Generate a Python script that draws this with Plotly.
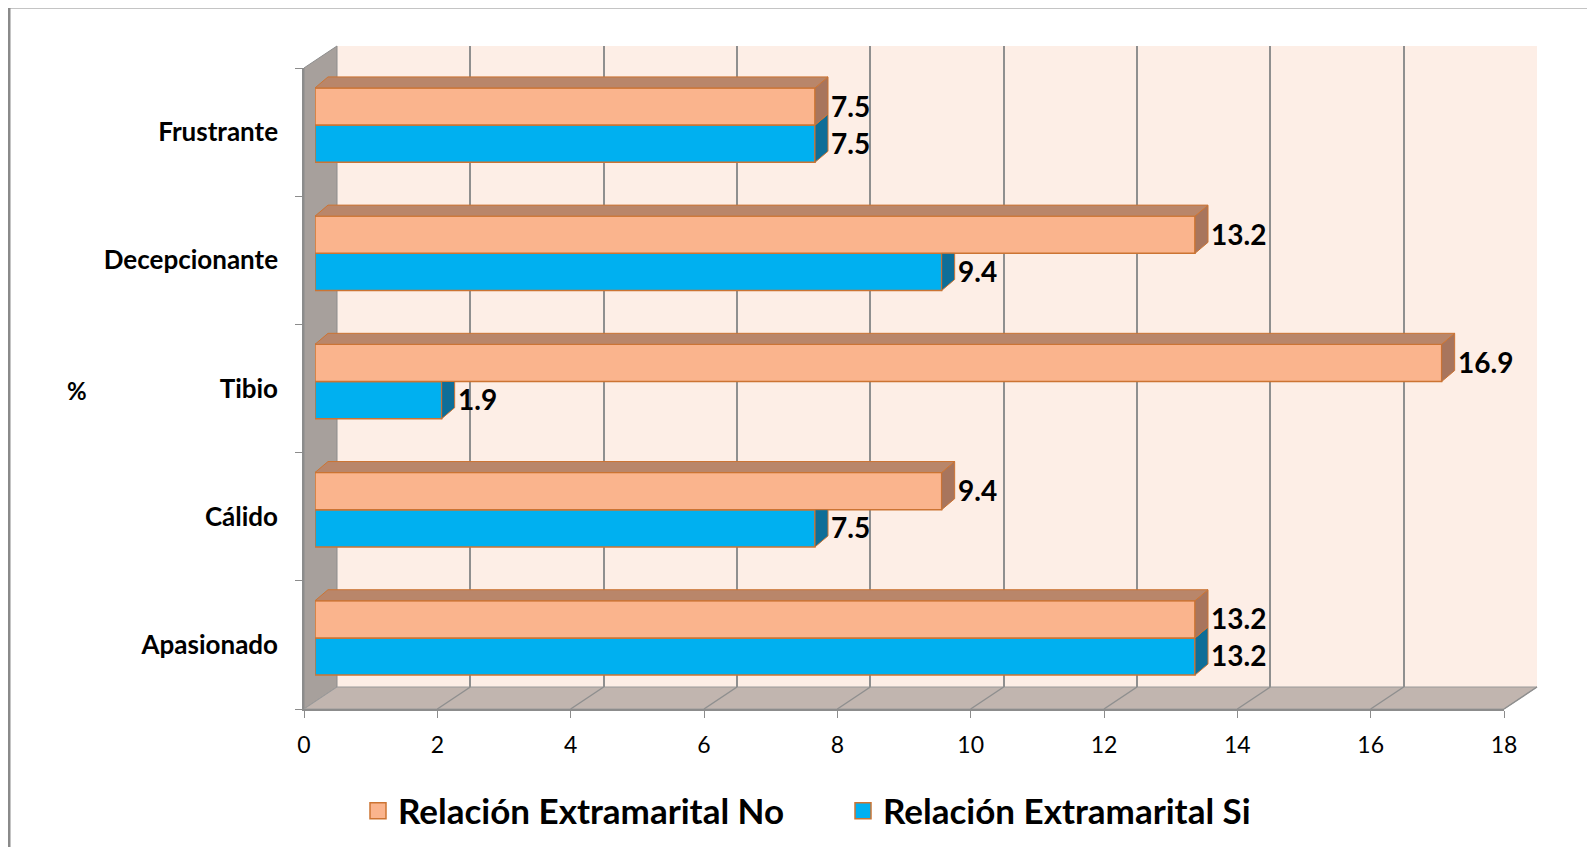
import plotly.graph_objects as go

# data
categories = ["Apasionado", "Cálido", "Tibio", "Decepcionante", "Frustrante"]
rel_no = [13.2, 9.4, 16.9, 13.2, 7.5]
rel_si = [13.2, 7.5, 1.9, 9.4, 7.5]
x_ticks = [0, 2, 4, 6, 8, 10, 12, 14, 16, 18]

FONT = "Lato"
# page body has an 8px margin, so the figure is a bit smaller than the window
OFF = 8
W, H = 1595 - 2 * OFF, 855 - 2 * OFF

ORANGE = "#FAB48D"
ORANGE_TOP = "#B9866A"
ORANGE_SIDE = "#A8755D"
BLUE = "#00B0F0"
BLUE_SIDE = "#0E6E98"
EDGE = "#CC7433"
WALL = "#FDEEE6"
SIDE_WALL = "#A7A09C"
FLOOR = "#C1B5AF"
GRID = "#8F8F8F"


def fx(px):
    return (px - OFF) / W


def fy(py):
    return 1 - (py - OFF) / H


# front plane of the 3d box (window pixels)
X0, X1 = 304, 1504
Y0, Y1 = 709, 68
BACK = (33, 22)      # back wall offset
SHIFT = (11, 7)      # where the bars sit inside the box
BAR_D = (13, 11)     # bar depth

xmax = x_ticks[-1]
ncat = len(categories)
px_per_x = (X1 - X0) / xmax
px_per_y = (Y0 - Y1) / ncat
dx = BAR_D[0] / px_per_x
dy = BAR_D[1] / px_per_y

bargap = 0.42
bw = (1 - bargap) / 2
pos = list(range(ncat))

fig = go.Figure()

# back wall subplot (x/y) -> only gridlines
fig.add_trace(go.Scatter(x=[0], y=[0], mode="markers", marker=dict(opacity=0),
                         showlegend=False, hoverinfo="skip", xaxis="x", yaxis="y"))

# bars (x2/y2)
series = [("Relación Extramarital Si", rel_si, BLUE, 2),
          ("Relación Extramarital No", rel_no, ORANGE, 1)]
for name, vals, col, rank in series:
    fig.add_trace(go.Bar(y=pos, x=vals, orientation="h", name=name, showlegend=False,
                         marker=dict(color=col, line=dict(color=EDGE, width=1.5)),
                         xaxis="x2", yaxis="y2", hoverinfo="skip"))
    # legend entry with a bigger square than the bar legend gives
    fig.add_trace(go.Scatter(x=[None], y=[None], mode="markers", name=name, legendrank=rank,
                             marker=dict(symbol="square", size=20, color=col,
                                         line=dict(color=EDGE, width=1.5)),
                             xaxis="x2", yaxis="y2"))

# front axes (x3/y3)
fig.add_trace(go.Scatter(x=[0] * ncat, y=categories, mode="markers", marker=dict(opacity=0),
                         showlegend=False, hoverinfo="skip", xaxis="x3", yaxis="y3"))

shapes = []
# outer border
shapes.append(dict(type="rect", xref="paper", yref="paper", x0=fx(9), x1=fx(1640),
                   y0=fy(7), y1=fy(900), line=dict(color="#8A8A8A", width=3), layer="below"))
# back wall
shapes.append(dict(type="rect", xref="paper", yref="paper",
                   x0=fx(X0 + BACK[0]), x1=fx(X1 + BACK[0]),
                   y0=fy(Y0 - BACK[1]), y1=fy(Y1 - BACK[1]),
                   fillcolor=WALL, line=dict(width=0), layer="below"))


def poly(pts):
    pts = [(fx(a), fy(b)) for a, b in pts]
    return "M " + " L ".join(f"{a:.5f},{b:.5f}" for a, b in pts) + " Z"


# side wall
shapes.append(dict(type="path", xref="paper", yref="paper", layer="below",
                   path=poly([(X0, Y0), (X0, Y1), (X0 + BACK[0], Y1 - BACK[1]), (X0 + BACK[0], Y0 - BACK[1])]),
                   fillcolor=SIDE_WALL, line=dict(color="#8C8C8C", width=1)))
# floor
shapes.append(dict(type="path", xref="paper", yref="paper", layer="below",
                   path=poly([(X0, Y0), (X1, Y0), (X1 + BACK[0], Y0 - BACK[1]), (X0 + BACK[0], Y0 - BACK[1])]),
                   fillcolor=FLOOR, line=dict(color="#9A9A9A", width=1)))
for t in x_ticks[1:]:
    px = X0 + t * px_per_x
    shapes.append(dict(type="line", xref="paper", yref="paper", layer="below",
                       x0=fx(px), y0=fy(Y0), x1=fx(px + BACK[0]), y1=fy(Y0 - BACK[1]),
                       line=dict(color=GRID, width=1.5)))


def dpath(pts):
    return "M " + " L ".join(f"{a:.4f},{b:.4f}" for a, b in pts) + " Z"


# 3d faces of the bars
for k, (vs, vn) in enumerate(zip(rel_si, rel_no)):
    top_si = k + dy if vn <= vs else k
    shapes.append(dict(type="path", xref="x2", yref="y2",
                       path=dpath([(vs, k - bw), (vs, k), (vs + dx, top_si), (vs + dx, k - bw + dy)]),
                       fillcolor=BLUE_SIDE, line=dict(color=EDGE, width=1)))
for k, vn in enumerate(rel_no):
    shapes.append(dict(type="path", xref="x2", yref="y2",
                       path=dpath([(vn, k), (vn, k + bw), (vn + dx, k + bw + dy), (vn + dx, k + dy)]),
                       fillcolor=ORANGE_SIDE, line=dict(color=EDGE, width=1)))
    shapes.append(dict(type="path", xref="x2", yref="y2",
                       path=dpath([(0, k + bw), (vn, k + bw), (vn + dx, k + bw + dy), (dx, k + bw + dy)]),
                       fillcolor=ORANGE_TOP, line=dict(color=EDGE, width=1)))

annotations = []
for k, (vs, vn) in enumerate(zip(rel_si, rel_no)):
    for v, yc in ((vn, k + bw / 2), (vs, k - bw / 2)):
        annotations.append(dict(x=v, y=yc, xref="x2", yref="y2", text=f"{v:.1f}",
                                showarrow=False, xanchor="left", yanchor="middle",
                                xshift=BAR_D[0] + 1, yshift=1,
                                font=dict(family=FONT, size=28, color="black", weight="bold")))
annotations.append(dict(x=fx(77), y=fy(390), xref="paper", yref="paper", text="%",
                        showarrow=False, xanchor="center", yanchor="middle",
                        font=dict(family=FONT, size=24, color="black", weight="bold")))

fig.update_layout(
    width=W, height=H, autosize=False,
    margin=dict(l=0, r=0, t=0, b=0, autoexpand=False),
    paper_bgcolor="white", plot_bgcolor="rgba(0,0,0,0)",
    barmode="group", bargap=bargap, bargroupgap=0,
    shapes=shapes, annotations=annotations,
    font=dict(family=FONT, color="black"),
    xaxis=dict(domain=[fx(X0 + BACK[0]), fx(X1 + BACK[0])], range=[0, xmax], dtick=2,
               showgrid=True, gridcolor=GRID, gridwidth=2, zeroline=False,
               showticklabels=False, ticks="", showline=False, anchor="y", fixedrange=True,
               automargin=False),
    yaxis=dict(domain=[fy(Y0 - BACK[1]), fy(Y1 - BACK[1])], range=[0, 1], visible=False,
               anchor="x", fixedrange=True, automargin=False),
    xaxis2=dict(domain=[fx(X0 + SHIFT[0]), fx(X1 + SHIFT[0])], range=[0, xmax],
                visible=False, anchor="y2", fixedrange=True, automargin=False),
    yaxis2=dict(domain=[fy(Y0 - SHIFT[1]), fy(Y1 - SHIFT[1])], range=[-0.5, ncat - 0.5],
                visible=False, anchor="x2", fixedrange=True, automargin=False),
    xaxis3=dict(domain=[fx(X0), fx(X1)], range=[0, xmax], tickvals=x_ticks,
                showgrid=False, zeroline=False, showline=True, linecolor="#8C8C8C", linewidth=1.5,
                ticks="outside", ticklen=7, tickcolor="#8C8C8C", ticklabelstandoff=8,
                tickfont=dict(family=FONT, size=23, color="black"), anchor="y3", fixedrange=True,
                automargin=False),
    yaxis3=dict(domain=[fy(Y0), fy(Y1)], type="category", categoryorder="array",
                categoryarray=categories, range=[-0.5, ncat - 0.5],
                showgrid=False, showline=True, linecolor="#8C8C8C", linewidth=1.5,
                ticks="outside", ticklen=7, tickcolor="#8C8C8C", tickson="boundaries",
                ticklabelstandoff=19,
                tickfont=dict(family=FONT, size=26, color="black", weight="bold"),
                anchor="x3", fixedrange=True, automargin=False),
    legend=dict(orientation="h", x=fx(358), y=fy(811), xanchor="left", yanchor="middle",
                entrywidth=440, bgcolor="rgba(0,0,0,0)",
                font=dict(family=FONT, size=35, color="black", weight="bold")),
)

fig.write_html("out.html")
